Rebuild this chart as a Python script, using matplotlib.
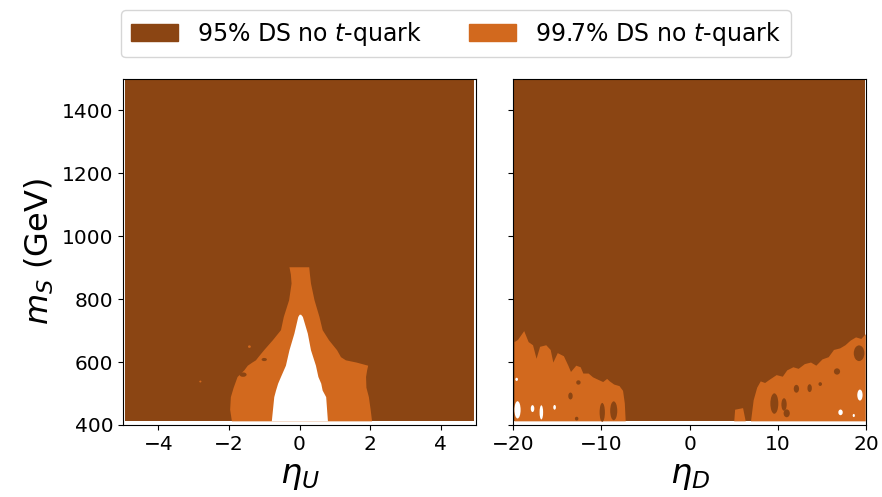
import numpy as np
import matplotlib
matplotlib.use('Agg')
import matplotlib.pyplot as plt
from matplotlib.patches import Patch, Ellipse

brown = '#8B4513'
orange = '#D2691E'

# data grid limits
m_min, m_max = 413, 1500
etaU_lim = (-4.95, 4.95)
etaD_lim = (-19.9, 19.9)

# left panel: 99.7% region (orange) edges vs m_S
mU_orange = [413, 450, 490, 520, 554, 575, 590, 600, 607, 617, 639, 671, 703, 745, 798, 851, 880, 903]
etaU_orange_lo = [-1.93, -1.98, -1.96, -1.88, -1.77, -1.58, -1.48, -1.35, -1.25, -1.18, -1.02, -0.77, -0.54, -0.46, -0.31, -0.24, -0.26, -0.30]
etaU_orange_hi = [2.04, 2.00, 1.95, 1.88, 1.87, 1.90, 1.93, 1.60, 1.30, 1.16, 1.05, 0.82, 0.64, 0.55, 0.41, 0.31, 0.28, 0.26]

# left panel: allowed region (white) edges
mU_white = [413, 490, 511, 533, 554, 590, 639, 692, 745, 752]
etaU_white_lo = [-0.80, -0.73, -0.68, -0.62, -0.54, -0.40, -0.30, -0.16, -0.05, -0.01]
etaU_white_hi = [0.79, 0.74, 0.64, 0.60, 0.52, 0.45, 0.31, 0.22, 0.08, 0.03]

# right panel: upper edge of the orange region vs eta_D
etaD_edge = [-19.9, -19.5, -18.8, -18.3, -17.8, -17.4, -17.0, -16.3, -15.8, -15.5, -15.0,
             -14.3, -13.8, -13.5, -12.9, -12.4, -12.1, -11.5, -11.0, -10.4, -9.85, -9.4,
             -9.1, -8.6, -8.0, -7.6, -7.4, -7.3,
             5.0, 5.1, 6.0, 6.3, 6.9, 7.2, 7.6, 8.0, 8.5, 9.0, 9.8, 10.5, 11.0, 11.7,
             12.3, 13.0, 13.7, 14.3, 15.0, 15.7, 16.3, 17.0, 17.6, 18.2, 18.8, 19.4, 19.9]
mD_edge = [665, 672, 700, 665, 655, 612, 650, 655, 640, 600, 630,
           620, 590, 570, 590, 585, 565, 565, 553, 545, 538, 548,
           540, 530, 525, 510, 470, 413,
           413, 450, 455, 413, 413, 480, 520, 540, 535, 545, 560, 555, 575, 585,
           580, 595, 600, 590, 610, 617, 640, 645, 655, 670, 680, 675, 690]

# brown islands inside the orange region: (eta, m, width, height)
brown_isl_D = [(-9.9, 440, 0.6, 60), (-8.6, 445, 0.8, 60), (-13.5, 492, 0.5, 22),
               (-12.6, 535, 0.5, 14), (-12.8, 420, 0.4, 12),
               (9.6, 468, 0.9, 65), (10.7, 465, 0.6, 40), (11.0, 437, 0.7, 25),
               (12.1, 515, 0.6, 25), (13.6, 517, 0.5, 25), (16.7, 570, 0.7, 20),
               (19.2, 628, 1.2, 50), (14.8, 530, 0.4, 12)]
brown_isl_U = [(-1.0, 608, 0.15, 10), (-1.6, 560, 0.2, 14)]
# small white (allowed) specks
white_isl_D = [(-19.5, 448, 0.7, 55), (-17.8, 452, 0.4, 22), (-16.8, 440, 0.4, 45),
               (-15.3, 456, 0.3, 15), (-19.6, 545, 0.3, 10), (19.3, 495, 0.6, 35),
               (17.1, 440, 0.5, 18), (18.6, 430, 0.25, 10)]
orange_isl_U = [(-1.42, 649, 0.08, 8), (-2.81, 538, 0.06, 6)]

fig, (ax1, ax2) = plt.subplots(1, 2, sharey=True, figsize=(8.82, 4.97), dpi=100)
plt.subplots_adjust(left=0.1395, right=0.982, bottom=0.145, top=0.841, wspace=0.105)

# left panel
ax1.fill_between(etaU_lim, m_min, m_max, color=brown, lw=0)
ax1.fill_betweenx(mU_orange, etaU_orange_lo, etaU_orange_hi, color=orange, lw=0)
ax1.fill_betweenx(mU_white, etaU_white_lo, etaU_white_hi, color='white', lw=0)
for e, m, w, h in brown_isl_U:
    ax1.add_patch(Ellipse((e, m), w, h, color=brown, lw=0))
for e, m, w, h in orange_isl_U:
    ax1.add_patch(Ellipse((e, m), w, h, color=orange, lw=0))

# right panel
ax2.fill_between(etaD_lim, m_min, m_max, color=brown, lw=0)
ax2.fill_between(etaD_edge, m_min, mD_edge, color=orange, lw=0)
for e, m, w, h in brown_isl_D:
    ax2.add_patch(Ellipse((e, m), w, h, color=brown, lw=0))
for e, m, w, h in white_isl_D:
    ax2.add_patch(Ellipse((e, m), w, h, color='white', lw=0))

ax1.set_xlim(-5, 5)
ax2.set_xlim(-20, 20)
ax1.set_ylim(400, 1500)
ax1.set_xticks([-4, -2, 0, 2, 4])
ax2.set_xticks([-20, -10, 0, 10, 20])
ax1.set_yticks([400, 600, 800, 1000, 1200, 1400])
for ax in (ax1, ax2):
    ax.tick_params(labelsize=14.5)

ax1.set_xlabel(r'$\eta_U$', fontsize=24)
ax2.set_xlabel(r'$\eta_D$', fontsize=24)
ax1.set_ylabel(r'$m_S$ (GeV)', fontsize=23)

handles = [Patch(color=brown, label=r'95% DS no $t$-quark'),
           Patch(color=orange, label=r'99.7% DS no $t$-quark')]
fig.legend(handles=handles, loc='center', bbox_to_anchor=(0.517, 0.932), ncol=2, fontsize=17)

plt.savefig('out.png', dpi=100)
